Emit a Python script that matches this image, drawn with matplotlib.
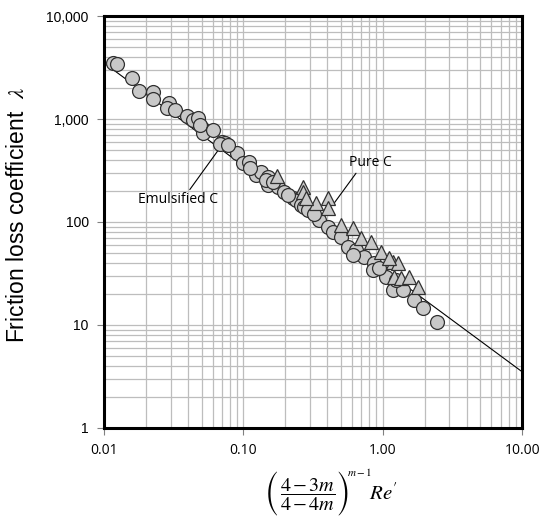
import numpy as np
import matplotlib.pyplot as plt
from matplotlib.ticker import FuncFormatter, LogLocator, NullFormatter

plt.rcParams['mathtext.fontset'] = 'stix'

# Emulsified C (circles)
emul_x = [0.0116, 0.0124, 0.0159, 0.0179, 0.0225, 0.0225, 0.0293, 0.0284, 0.0324,
          0.0395, 0.0437, 0.0475, 0.0507, 0.0515, 0.0491, 0.0706, 0.0742, 0.0683,
          0.0905, 0.0984, 0.1087, 0.122, 0.1326, 0.149, 0.151, 0.176, 0.194, 0.225,
          0.237, 0.257, 0.270, 0.289, 0.347, 0.402, 0.437, 0.499, 0.560, 0.640,
          0.730, 0.861, 0.847, 1.05, 1.18, 1.39, 1.67, 1.94, 2.45, 0.144, 0.319,
          0.078, 0.112, 0.162, 0.207, 0.608, 0.936, 1.24, 0.0608]
emul_y = [3500, 3420, 2500, 1870, 1830, 1565, 1430, 1280, 1220,
          1070, 978, 1022, 818, 731, 875, 598, 585, 570,
          468, 374, 383, 286, 306, 229, 273, 219, 196, 171,
          164, 146, 140, 131, 105, 89.4, 80, 71.5, 57.2, 53.5,
          45.7, 40, 34.2, 29.2, 21.9, 21.9, 17.5, 14.6, 10.7, 256, 120,
          560, 334, 245, 183, 47.8, 35.8, 27.3, 782]

# Pure C (triangles)
pure_x = [0.173, 0.266, 0.266, 0.330, 0.402, 0.402, 0.499, 0.608, 0.695, 0.820,
          0.968, 1.18, 1.28, 1.20, 1.35, 1.54, 1.79, 1.10, 0.279]
pure_y = [280, 219, 196, 153, 171, 137, 93.5, 87.5, 70, 64,
          51.1, 40.9, 40, 29.2, 28.6, 29.2, 23.4, 44.7, 171]

# theoretical line lambda = C / x
line_c = 35.0
line_x = np.array([0.01, 10.0])

fig = plt.figure(figsize=(5.48, 5.18), dpi=100)
ax = fig.add_axes([0.190, 0.174, 0.763, 0.795])

ax.set_xscale('log')
ax.set_yscale('log')
ax.set_xlim(0.01, 10)
ax.set_ylim(1, 10000)

ax.plot(line_x, line_c / line_x, color='black', lw=0.8, zorder=3)
ax.plot(emul_x, emul_y, 'o', ms=10, mfc='#c8c8c8', mec='#303030', mew=0.9, zorder=4)
ax.plot(pure_x, pure_y, '^', ms=10.5, mfc='#c8c8c8', mec='#303030', mew=0.9, zorder=5)

# grid
ax.xaxis.set_minor_locator(LogLocator(base=10, subs=np.arange(2, 10)))
ax.yaxis.set_minor_locator(LogLocator(base=10, subs=np.arange(2, 10)))
ax.xaxis.set_minor_formatter(NullFormatter())
ax.yaxis.set_minor_formatter(NullFormatter())
ax.grid(True, which='both', color='#bdbdbd', lw=0.9, zorder=0)
ax.set_axisbelow(True)

ax.xaxis.set_major_formatter(FuncFormatter(lambda v, p: f'{v:.2f}'))
ax.yaxis.set_major_formatter(FuncFormatter(lambda v, p: f'{v:,.0f}'))
ax.tick_params(which='major', direction='out', length=5, width=0.8, color='#808080',
               labelsize=10, pad=6)
ax.tick_params(which='minor', length=0)
for lab in ax.get_xticklabels():
    lab.set_family('Open Sans')
for lab in ax.get_yticklabels():
    lab.set_family('Liberation Sans')

for s in ax.spines.values():
    s.set_linewidth(2.2)
    s.set_color('black')

# annotations
ax.annotate('Emulsified C', xy=(0.0718, 585), xytext=(0.034, 164),
            ha='center', va='center', fontsize=10, family='Open Sans',
            arrowprops=dict(arrowstyle='-', color='black', lw=0.8,
                            shrinkA=0, shrinkB=0,
                            relpos=(0.62, 1.0)))
ax.annotate('Pure C', xy=(0.437, 146), xytext=(0.82, 374),
            ha='center', va='center', fontsize=10, family='Open Sans',
            arrowprops=dict(arrowstyle='-', color='black', lw=0.8,
                            shrinkA=0, shrinkB=0,
                            relpos=(0.2, 0.0)))

ax.set_ylabel(r'Friction loss coefficient  $\lambda$', fontsize=16.5,
              family='Liberation Sans')
ax.yaxis.set_label_coords(-0.18, 0.517)

# x axis label built from pieces, like the equation object in the source
fig.text(0.4955, 0.046, '(', fontsize=17, family='STIXSizeTwoSym',
         ha='center', va='center')
fig.text(0.561, 0.044, r'$\dfrac{4\,{-}\,3m}{4\,{-}\,4m}$', fontsize=14.5,
         ha='center', va='center')
fig.text(0.6255, 0.046, ')', fontsize=17, family='STIXSizeTwoSym',
         ha='center', va='center')
fig.text(0.655, 0.0888, r'$m\,{-}\,1$', fontsize=8, ha='center', va='center')
fig.text(0.674, 0.048, r"$Re'$", fontsize=15, ha='left', va='center')

fig.savefig('out.png', dpi=100)
